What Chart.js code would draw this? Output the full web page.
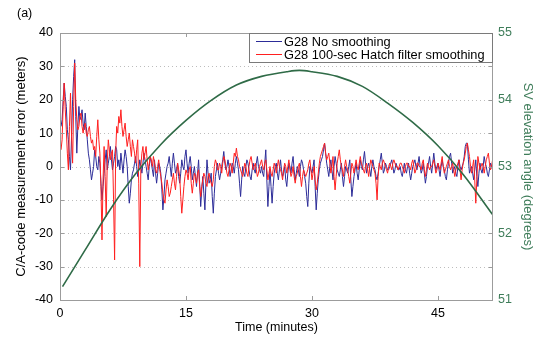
<!DOCTYPE html>
<html><head><meta charset="utf-8">
<script src="https://cdn.jsdelivr.net/npm/chart.js@4.4.0/dist/chart.umd.min.js"></script>
<style>html,body{margin:0;padding:0;background:#fff;}#wrap{width:540px;height:341px;position:relative;}</style>
</head><body><div id="wrap"><canvas id="c" width="540" height="341"></canvas></div>
<script>
// ---- data ----
const sampleStepMin = 0.125; // minutes between samples
const noSmoothing = [
 12,14,20,25,21,18,11,8,  3,-1,9,20,27,32,15,4,  12,18,14,15,17,13,11,16,  12,8,4,2,-1,-4,-2,0,
 5,3,0,-1,3,1,-5,-10,  -6,-2,2,5,-1,1,3,6,  2,-1,1,3,6,5,0,2,  -1,4,1,-2,2,5,3,0,
 -6,-11,-8,-4,-2,-1,1,3,  0,-3,-1,2,0,-2,1,4,  2,0,-2,-4,0,3,1,-1,  -3,2,-2,-5,-2,1,0,-2,
 -7,-13,-9,-4,-2,0,1,3,  0,-3,1,4,1,-2,-1,1,  -3,-5,-2,2,0,-1,3,5,  1,-2,1,3,0,-4,-2,0,
 -3,-6,-2,2,-5,-12,-7,-3,  -8,-13,-5,2,-2,-5,-4,-2,  -9,-14,-8,-3,-1,1,-2,-4,  -2,0,2,4.5,1,-1,0,2,
 0,-3,-1,1,0,-2,1,3,  1,-1,-5,-9,-4,0,-2,-3,  0,2,1,-1,-3,-4,-1,1,  -1,-2,1,3,0,-1,-2,0,
 -2,-3,1,5,-4,-12,-6,-1,  -6,-11,-6,-2,0,1,-2,-4,  -1,2,-1,-3,-2,0,-4,-6,  -2,1,0,-2,1,3,-1,-4,
 -2,0,-1,-3,0,2,1,-1,  -3,-5,-9,-12,-5,0,-1,-2,  0,2,-6,-13,-8,-4,-1,1,  2,3,5,7,4,1,-1,-3,
 0,2,-1,-4,0,3,1,-1,  -2,-3,-1,1,-3,-6,-3,0,  -1,-2,0,2,-4,-9,-6,-3,  -1,1,-2,-4,-1,2,0,-1,
 2,4.5,1,-2,0,1,-1,-3,  0,2,0,-1,-3,-4,-2,0,  2,4,1,-2,-1,1,0,-1,  -1,0,1,2,0,-2,-1,1,
 0,-1,-1,0,-2,-3,-1,1,  -1,-2,0,1,-2,-4,-2,0,  1,2,0,-1,1,3,0,-2,  -1,1,-2,-5,-3,0,1,3,
 0,-2,1,4,1,-1,0,1,  -1,-3,0,2,0,-1,-3,-4,  -1,1,3,4,1,-2,-1,0,  -2,-3,0,2,0,-1,0,1,
 3,6,7,7,2,-2,-1,0,  -2,-4,-1,2,-3,-6,-2,1,  -1,-2,0,3,1,0,-2,-3,  -1,1,0,-1
];
const hatchSmoothing = [
 5,8,18,25,17,11,4,-1,  12,22,9,1,18,31,20,14,  11,12,15,16,12,10,12,13,  10,9,11,12,9,7,8,5,
 6,3,9,14,8,4,-6,-22,  -4,6,-3,-15,1,8,5,2,  4,5,-10,-28,4,12,10,15,  13,17,12,9,11,13,9,6,
 8,10,6,3,8,6,4,1,  5,8,-5,-30,0,4,6,2,  4,6,2,-1,1,3,2,0,  3,1,-1,-2,0,2,-1,-3,
 -5,-8,-10,-11,-7,-4,-6,-9,  -8,-6,-4,-2,-5,-7,-3,1,  -1,-3,-9,-14,-10,-6,-3,-1,  -2,-4,-1,0,-5,-8,-5,-2,
 -3,-5,-2,-1,-6,-9,-6,-4,  -2,-3,-5,-6,-3,-2,-4,-5,  -6,-4,0,2,1,-1,-1,1,  0,-2,1,3,2,0,-2,-3,
 -1,1,0,-2,1,4,3,5.5,  3,2,0,-1,-2,-3,-1,1,  0,-2,-3,0,2,3,1,-1,  0,1,-1,-3,-2,0,1,2,
 0,-1,1,2,-1,-4,-2,0,  -2,-3,-1,1,0,-2,0,2,  0,-1,-2,-4,-1,1,0,-2,  0,2,-1,-3,-2,0,-3,-5,
 -3,-2,0,1,-3,-6,-3,-1,  -2,-3,-2,-1,1,2,-1,-4,  -2,0,-4,-7,-5,-2,1,3,  4,5,6,7,4,2,3,4,
 1,-2,0,3,-3,-7,-3,1,  3,5,2,0,-1,-3,0,2,  0,-1,-3,-5,-2,1,0,-2,  0,2,0,-1,1,3,1,0,
 -1,-2,0,1,-1,-3,0,2,  1,0,-1,-2,-5,-10,-3,1,  0,-1,1,2,1,0,-1,-2,  0,1,0,-1,1,2,1,0,
 0,-1,0,1,1,0,-1,-2,  0,1,1,0,0,-1,1,2,  0,-2,-1,1,1,0,0,-1,  1,2,-1,-3,-1,1,0,-1,
 0,0,1,2,0,-2,-1,1,  0,-1,1,3,0,-2,-1,0,  1,2,0,-1,0,1,-1,-3,  -1,0,1,2,-1,-4,-1,1,
 2,4,6,7,5,3,0,-2,  0,2,-4,-11,-4,3,1,-1,  0,1,0,-2,0,2,3,4,  1,-1,0,2
];
const elevTimes = [0.3, 3, 6, 9, 12, 15, 18, 21, 24, 27, 28.5, 30, 33, 36, 39, 42, 45, 48, 51.5];
const elevDeg   = [51.20, 51.75, 52.36, 52.89, 53.33, 53.69, 53.99, 54.22, 54.35, 54.42, 54.44, 54.42, 54.35, 54.20, 53.95, 53.66, 53.31, 52.88, 52.28];
const xTickValues = [0, 15, 30, 45];
const errTickValues = [-40, -30, -20, -10, 0, 10, 20, 30, 40];
const elevTickValues = [51, 52, 53, 54, 55];
const seriesLabels = ['G28 No smoothing', 'G28 100-sec Hatch filter smoothing', 'SV elevation'];

// ---- styling ----
const FONT = '"Liberation Sans", Arial, Helvetica, sans-serif';
const BLUE = '#2c2c98', RED = '#ff1f1f', GREEN = '#2f6b47', GREEN_TXT = '#3f7d5a';
Chart.defaults.font.family = FONT;
Chart.defaults.color = '#000';

const toXY = arr => arr.map((v, i) => ({x: (i + 1) * sampleStepMin, y: v}));
const elevXY = elevTimes.map((t, i) => ({x: t, y: elevDeg[i]}));

const decor = {
  id: 'decor',
  beforeDatasetsDraw(chart) {
    const {ctx, chartArea: a, scales} = chart;
    ctx.save();
    ctx.strokeStyle = '#bdbdbd'; ctx.lineWidth = 1; ctx.setLineDash([1, 3]);
    errTickValues.forEach(v => {
      if (v === -40 || v === 40) return;
      const y = Math.round(scales.y.getPixelForValue(v)) + 0.5;
      ctx.beginPath(); ctx.moveTo(a.left, y); ctx.lineTo(a.right, y); ctx.stroke();
    });
    ctx.restore();
  },
  afterDraw(chart) {
    const {ctx, chartArea: a, scales} = chart;
    ctx.save();
    ctx.strokeStyle = '#9c9c9c'; ctx.lineWidth = 1;
    ctx.strokeRect(Math.round(a.left) + 0.5, Math.round(a.top) + 0.5, Math.round(a.right - a.left) - 1, Math.round(a.bottom - a.top));
    ctx.beginPath();
    errTickValues.forEach(v => {
      const y = Math.round(scales.y.getPixelForValue(v)) + 0.5;
      ctx.moveTo(a.left, y); ctx.lineTo(a.left + 4, y);
      ctx.moveTo(a.right, y); ctx.lineTo(a.right - 4, y);
    });
    xTickValues.forEach(v => {
      const x = Math.round(scales.x.getPixelForValue(v)) + 0.5;
      ctx.moveTo(x, a.bottom); ctx.lineTo(x, a.bottom - 4);
      ctx.moveTo(x, a.top); ctx.lineTo(x, a.top + 4);
    });
    ctx.stroke();
    // legend
    const lx = 249, ly = 33, lw = Math.round(a.right) - 249, lh = 29;
    ctx.fillStyle = '#fff';
    ctx.fillRect(lx, ly, lw, lh);
    ctx.strokeStyle = '#7a7a7a';
    ctx.strokeRect(lx + 0.5, ly + 0.5, lw - 1, lh);
    const items = [[seriesLabels[0], BLUE, 41], [seriesLabels[1], RED, 54]];
    ctx.font = '12.8px ' + FONT;
    ctx.textBaseline = 'middle'; ctx.textAlign = 'left';
    items.forEach(([t, c, y]) => {
      ctx.strokeStyle = c; ctx.lineWidth = 1;
      ctx.beginPath(); ctx.moveTo(256, y + 0.5); ctx.lineTo(282, y + 0.5); ctx.stroke();
      ctx.fillStyle = '#000'; ctx.fillText(t, 284, y + 1);
    });
    // panel label
    ctx.font = '12.5px ' + FONT;
    ctx.fillStyle = '#000';
    ctx.fillText('(a)', 17, 14);
    ctx.restore();
  }
};

new Chart(document.getElementById('c'), {
  type: 'line',
  data: {
    datasets: [
      {label: seriesLabels[2], data: elevXY, yAxisID: 'y1', borderColor: GREEN, borderWidth: 1.6,
       pointRadius: 0, cubicInterpolationMode: 'monotone', order: 0},
      {label: seriesLabels[1], data: toXY(hatchSmoothing), yAxisID: 'y', borderColor: RED, borderWidth: 1,
       pointRadius: 0, tension: 0, order: 1},
      {label: seriesLabels[0], data: toXY(noSmoothing), yAxisID: 'y', borderColor: BLUE, borderWidth: 1,
       pointRadius: 0, tension: 0, order: 2}
    ]
  },
  options: {
    responsive: false, animation: false, devicePixelRatio: 1,
    layout: {padding: {top: 33, left: 0, right: 0, bottom: 0}},
    plugins: {legend: {display: false}, tooltip: {enabled: false}},
    scales: {
      x: {
        type: 'linear', min: 0, max: 51.55,
        grid: {display: false, drawTicks: false}, border: {display: false},
        afterBuildTicks: s => { s.ticks = xTickValues.map(v => ({value: v})); },
        afterFit: s => { s.height = 41; },
        ticks: {padding: 6, font: {size: 12.5}, color: '#000', maxRotation: 0},
        title: {display: true, text: 'Time (minutes)', font: {size: 12.5}, color: '#000', padding: {top: 0, bottom: 6}}
      },
      y: {
        position: 'left', min: -40, max: 40,
        grid: {display: false, drawTicks: false}, border: {display: false},
        afterBuildTicks: s => { s.ticks = errTickValues.map(v => ({value: v})); },
        afterFit: s => { s.width = 60; },
        ticks: {padding: 7, font: {size: 12.5}, color: '#000'},
        title: {display: true, text: 'C/A-code measurement error (meters)', font: {size: 13}, color: '#000', padding: {top: 14, bottom: 0}}
      },
      y1: {
        position: 'right', min: 51, max: 55,
        grid: {display: false, drawTicks: false}, border: {display: false},
        afterBuildTicks: s => { s.ticks = elevTickValues.map(v => ({value: v})); },
        afterFit: s => { s.width = 47; },
        ticks: {padding: 5, font: {size: 12.5}, color: GREEN_TXT},
        title: {display: true, text: 'SV elevation angle (degrees)', font: {size: 13}, color: GREEN_TXT, padding: {top: 5, bottom: 0}}
      }
    }
  },
  plugins: [decor]
});
</script>
</body></html>
